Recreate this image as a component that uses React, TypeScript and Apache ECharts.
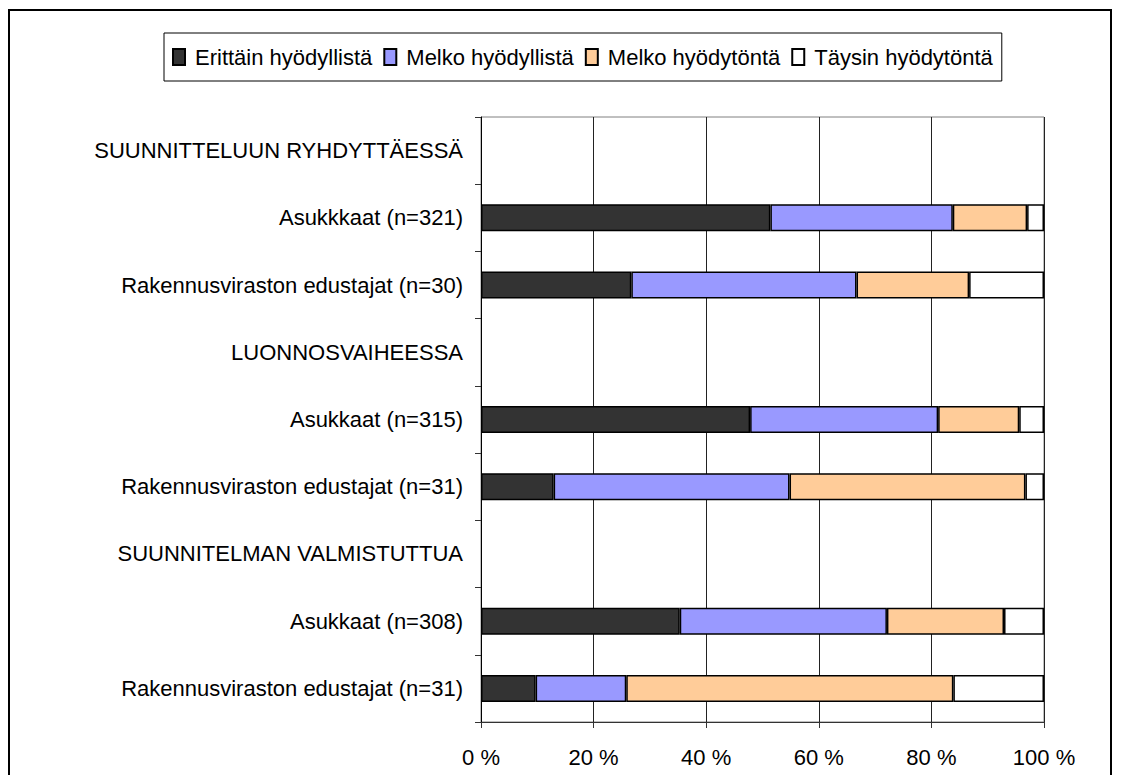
import React, { useEffect, useRef } from "react";
import * as echarts from "echarts";

const categories = [
  "SUUNNITTELUUN RYHDYTTÄESSÄ",
  "Asukkkaat (n=321)",
  "Rakennusviraston edustajat (n=30)",
  "LUONNOSVAIHEESSA",
  "Asukkaat (n=315)",
  "Rakennusviraston edustajat (n=31)",
  "SUUNNITELMAN VALMISTUTTUA",
  "Asukkaat (n=308)",
  "Rakennusviraston edustajat (n=31)",
];

const seriesNames = ["Erittäin hyödyllistä", "Melko hyödyllistä", "Melko hyödytöntä", "Täysin hyödytöntä"];

const erittainHyodyllista = [null, 51.4, 26.7, null, 47.8, 12.9, null, 35.3, 9.7];
const melkoHyodyllista = [null, 32.4, 40.0, null, 33.4, 41.9, null, 36.8, 16.1];
const melkoHyodytonta = [null, 13.2, 20.0, null, 14.4, 41.9, null, 20.8, 58.1];
const taysinHyodytonta = [null, 3.0, 13.3, null, 4.4, 3.3, null, 7.1, 16.1];

const xTicks = [0, 20, 40, 60, 80, 100];

const colors = ["#333333", "#9999FF", "#FFCC99", "#FFFFFF"];

const FONT = "'Liberation Sans', Arial, sans-serif";

export default function App() {
  const ref = useRef<HTMLDivElement>(null);

  useEffect(() => {
    if (!ref.current) return;
    const chart = echarts.init(ref.current, undefined, { renderer: "svg" });
    const values = [erittainHyodyllista, melkoHyodyllista, melkoHyodytonta, taysinHyodytonta];
    chart.setOption({
      animation: false,
      backgroundColor: "#ffffff",
      textStyle: { fontFamily: FONT, color: "#000" },
      graphic: [
        {
          type: "rect",
          shape: { x: 1, y: 2, width: 1102, height: 800 },
          style: { fill: "none", stroke: "#000", lineWidth: 2 },
          silent: true,
        },
      ],
      legend: {
        left: 156,
        top: 25,
        orient: "horizontal",
        data: seriesNames,
        icon: "rect",
        itemWidth: 12,
        itemHeight: 16,
        itemGap: 11,
        borderColor: "#000",
        borderWidth: 1,
        padding: [13, 9, 13, 8],
        textStyle: { fontFamily: FONT, fontSize: 22, color: "#000", padding: [0, 0, 0, 5] },
      },
      grid: {
        left: 473,
        right: 79,
        top: 109,
        bottom: 53,
        show: true,
        borderColor: "#808080",
        borderWidth: 1,
        containLabel: false,
      },
      xAxis: {
        type: "value",
        min: 0,
        max: 100,
        interval: 20,
        axisLine: { show: true, lineStyle: { color: "#333", width: 1 } },
        axisTick: { show: true, length: 6, lineStyle: { color: "#333" } },
        splitLine: { show: true, lineStyle: { color: "#222", width: 1 } },
        axisLabel: {
          fontFamily: FONT,
          fontSize: 22,
          color: "#000",
          margin: 24,
          formatter: (v: number) => (xTicks.includes(v) ? `${v} %` : ""),
        },
      },
      yAxis: {
        type: "category",
        data: categories,
        inverse: true,
        axisLine: { show: true, lineStyle: { color: "#000", width: 1 } },
        axisTick: { show: true, length: 6, lineStyle: { color: "#333" } },
        splitLine: { show: false },
        axisLabel: {
          fontFamily: FONT,
          fontSize: 22,
          color: "#000",
          margin: 18,
          interval: 0,
        },
      },
      series: seriesNames.map((name, i) => ({
        name,
        type: "bar",
        stack: "total",
        barWidth: 27,
        data: values[i],
        itemStyle: { color: colors[i], borderColor: "#000", borderWidth: 1.5 },
        emphasis: { disabled: true },
      })),
    });
    return () => chart.dispose();
  }, []);

  return <div ref={ref} style={{ width: 1115, height: 767 }} />;
}
